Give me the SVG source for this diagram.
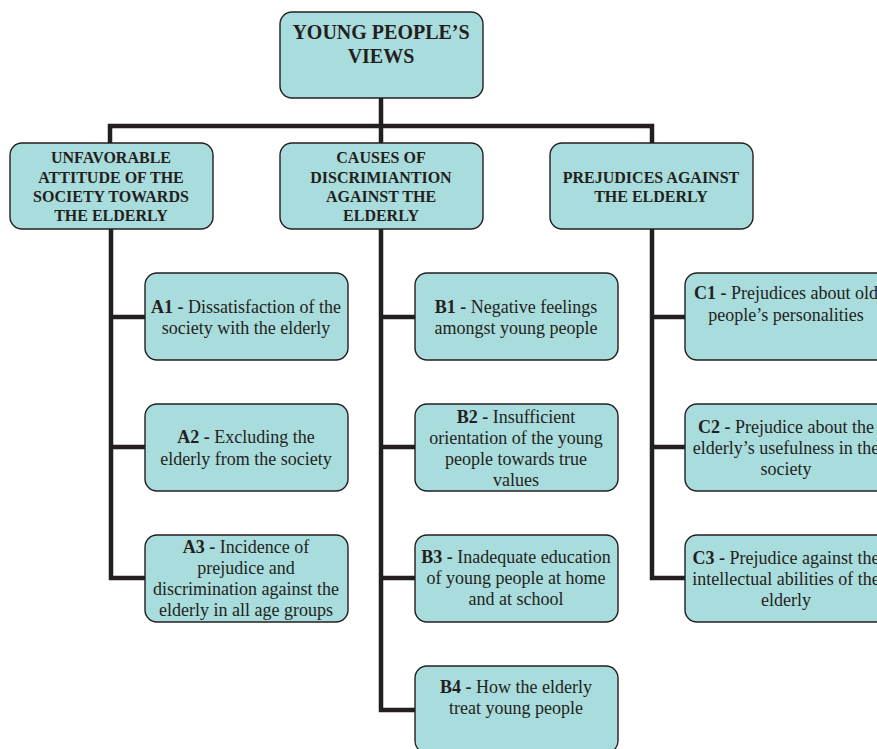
<svg xmlns="http://www.w3.org/2000/svg" width="877" height="749" viewBox="0 0 877 749">
<style>
.box{fill:#a9dcdc;stroke:#231f20;stroke-width:1.4}
.ln{fill:none;stroke:#231f20;stroke-width:4.5;stroke-linecap:butt;stroke-linejoin:miter}
.h{font-family:"Liberation Serif","Times New Roman",serif;font-weight:bold;font-size:16px;fill:#231f20;text-anchor:middle}
.t{font-family:"Liberation Serif","Times New Roman",serif;font-weight:bold;font-size:20px;fill:#231f20;text-anchor:middle}
.c{font-family:"Liberation Serif","Times New Roman",serif;font-size:18px;fill:#231f20;text-anchor:middle}
.c tspan.b{font-weight:bold}
</style>
<rect width="877" height="749" fill="#ffffff"/>
<g id="connectors">
<path class="ln" d="M381 98V126M110 143V126H652V143M381 126V143"/>
<path class="ln" d="M111 229V578H145M111 317H145M111 447H145"/>
<path class="ln" d="M381 229V710H415M381 317H415M381 447H415M381 578H415"/>
<path class="ln" d="M652 229V578H685M652 317H685M652 447H685"/>
</g>
<g id="root">
<rect class="box" x="280" y="12" width="203" height="86" rx="12"/>
<text class="t" x="381" y="39">YOUNG PEOPLE’S</text>
<text class="t" x="381" y="63">VIEWS</text>
</g>
<g id="A">
<rect class="box" x="10" y="143" width="203" height="86" rx="12"/>
<text class="h" x="111" y="163">UNFAVORABLE</text>
<text class="h" x="111" y="183">ATTITUDE OF THE</text>
<text class="h" x="111" y="202">SOCIETY TOWARDS</text>
<text class="h" x="111" y="221">THE ELDERLY</text>
</g>
<g id="B">
<rect class="box" x="280" y="143" width="203" height="86" rx="12"/>
<text class="h" x="381" y="163">CAUSES OF</text>
<text class="h" x="381" y="183">DISCRIMIANTION</text>
<text class="h" x="381" y="202">AGAINST THE</text>
<text class="h" x="381" y="221">ELDERLY</text>
</g>
<g id="C">
<rect class="box" x="550" y="143" width="203" height="86" rx="12"/>
<text class="h" x="651" y="183">PREJUDICES AGAINST</text>
<text class="h" x="651" y="202">THE ELDERLY</text>
</g>
<g id="A1">
<rect class="box" x="145" y="273" width="203" height="87" rx="12"/>
<text class="c" x="246" y="313"><tspan class="b">A1 -</tspan> Dissatisfaction of the</text>
<text class="c" x="246" y="334">society with the elderly</text>
</g>
<g id="A2">
<rect class="box" x="145" y="404" width="203" height="87" rx="12"/>
<text class="c" x="246" y="443"><tspan class="b">A2 -</tspan> Excluding the</text>
<text class="c" x="246" y="465">elderly from the society</text>
</g>
<g id="A3">
<rect class="box" x="145" y="535" width="203" height="87" rx="12"/>
<text class="c" x="246" y="553"><tspan class="b">A3 -</tspan> Incidence of</text>
<text class="c" x="246" y="574">prejudice and</text>
<text class="c" x="246" y="595">discrimination against the</text>
<text class="c" x="246" y="616">elderly in all age groups</text>
</g>
<g id="B1">
<rect class="box" x="415" y="273" width="203" height="87" rx="12"/>
<text class="c" x="516" y="313"><tspan class="b">B1 -</tspan> Negative feelings</text>
<text class="c" x="516" y="334">amongst young people</text>
</g>
<g id="B2">
<rect class="box" x="415" y="404" width="203" height="87" rx="12"/>
<text class="c" x="516" y="423"><tspan class="b">B2 -</tspan> Insufficient</text>
<text class="c" x="516" y="444">orientation of the young</text>
<text class="c" x="516" y="465">people towards true</text>
<text class="c" x="516" y="486">values</text>
</g>
<g id="B3">
<rect class="box" x="415" y="535" width="203" height="87" rx="12"/>
<text class="c" x="516" y="563"><tspan class="b">B3 -</tspan> Inadequate education</text>
<text class="c" x="516" y="584">of young people at home</text>
<text class="c" x="516" y="605">and at school</text>
</g>
<g id="B4">
<rect class="box" x="415" y="666" width="203" height="87" rx="12"/>
<text class="c" x="516" y="693"><tspan class="b">B4 -</tspan> How the elderly</text>
<text class="c" x="516" y="714">treat young people</text>
</g>
<g id="C1">
<rect class="box" x="685" y="273" width="203" height="87" rx="12"/>
<text class="c" x="786" y="299"><tspan class="b">C1 -</tspan> Prejudices about old</text>
<text class="c" x="786" y="321">people’s personalities</text>
</g>
<g id="C2">
<rect class="box" x="685" y="404" width="203" height="87" rx="12"/>
<text class="c" x="786" y="433"><tspan class="b">C2 -</tspan> Prejudice about the</text>
<text class="c" x="786" y="454">elderly’s usefulness in the</text>
<text class="c" x="786" y="475">society</text>
</g>
<g id="C3">
<rect class="box" x="685" y="535" width="203" height="87" rx="12"/>
<text class="c" x="786" y="564"><tspan class="b">C3 -</tspan> Prejudice against the</text>
<text class="c" x="786" y="585">intellectual abilities of the</text>
<text class="c" x="786" y="606">elderly</text>
</g>
</svg>
